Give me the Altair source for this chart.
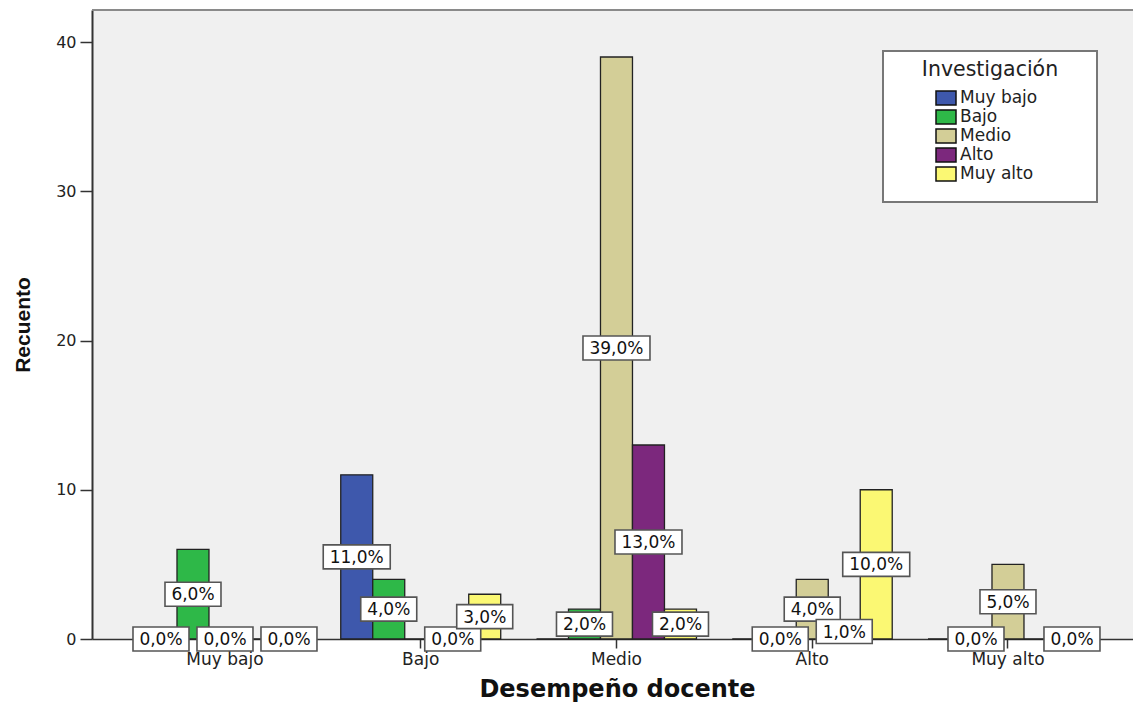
import altair as alt
import pandas as pd

# Categorías del eje X (Desempeño docente) y de la serie (Investigación)
desempeno = ["Muy bajo", "Bajo", "Medio", "Alto", "Muy alto"]
investigacion = ["Muy bajo", "Bajo", "Medio", "Alto", "Muy alto"]
colores = ["#3e58ac", "#2eb848", "#d3ce97", "#7c287d", "#fbf873"]

# Recuento de cada nivel de investigación, en el orden de `desempeno`
cuenta_muy_bajo = [0, 11, 0, 0, 0]
cuenta_bajo = [6, 4, 2, 0, 0]
cuenta_medio = [0, 0, 39, 4, 5]
cuenta_alto = [0, 0, 13, 1, 0]
cuenta_muy_alto = [0, 3, 2, 10, 0]

series = [cuenta_muy_bajo, cuenta_bajo, cuenta_medio, cuenta_alto, cuenta_muy_alto]
total = sum(sum(s) for s in series)

filas = []
for j, (nivel, cuentas) in enumerate(zip(investigacion, series)):
    for i, (cat, n) in enumerate(zip(desempeno, cuentas)):
        pct = 100.0 * n / total
        filas.append({
            "desempeno": cat,
            "investigacion": nivel,
            "grupo": i,
            "serie": j,
            "recuento": n,
            "mitad": n / 2.0,
            "etiqueta": f"{pct:.1f}".replace(".", ",") + "%",
        })
df = pd.DataFrame(filas)

# Las etiquetas se colocan de derecha a izquierda; una etiqueta que choca con
# la de la barra vecina ya colocada se omite.
ALTO_ETIQUETA = 1.4  # alto de la caja de la etiqueta, en unidades de recuento
colocadas = []
visible = {}
for k in sorted(df.index, key=lambda k: (df.at[k, "grupo"], df.at[k, "serie"]), reverse=True):
    g, s, m = df.at[k, "grupo"], df.at[k, "serie"], df.at[k, "mitad"]
    choca = any(pg == g and abs(ps - s) == 1 and abs(pm - m) < ALTO_ETIQUETA
                for pg, ps, pm in colocadas)
    visible[k] = not choca
    if not choca:
        colocadas.append((g, s, m))
df["visible"] = pd.Series(visible)
etiquetas = df[df["visible"]].copy()

FUENTE = "DejaVu Sans"

x_enc = alt.X(
    "desempeno:N",
    sort=desempeno,
    scale=alt.Scale(paddingInner=0, paddingOuter=0.159, align=0.564),
    axis=alt.Axis(
        title="Desempeño docente",
        labelAngle=0,
        labelFont=FUENTE,
        labelFontSize=17,
        labelColor="#222222",
        labelPadding=3,
        tickSize=9,
        tickColor="#333333",
        tickWidth=1.5,
        domainColor="#333333",
        domainWidth=1.5,
        titleFont=FUENTE,
        titleFontSize=24,
        titleFontWeight="bold",
        titleColor="#111111",
        titleX=525,
        titleY=57,
        titleAlign="center",
        titleBaseline="alphabetic",
    ),
)
xoff_enc = alt.XOffset(
    "investigacion:N",
    sort=investigacion,
    scale=alt.Scale(paddingInner=0, paddingOuter=0.559),
)
eje_y = alt.Axis(
    values=[0, 10, 20, 30, 40],
    title="Recuento",
    grid=False,
    labelFont=FUENTE,
    labelFontSize=16,
    labelColor="#222222",
    labelPadding=4,
    tickSize=12,
    tickColor="#333333",
    tickWidth=1.5,
    domainColor="#333333",
    domainWidth=2,
    titleFont="Liberation Sans",
    titleFontSize=21,
    titleFontWeight="bold",
    titleColor="#111111",
    titleAngle=270,
    titleX=-69,
    titleY=314.5,
    titleAlign="center",
    titleBaseline="middle",
)
escala_y = alt.Scale(domain=[0, 42.15], nice=False)

barras = alt.Chart(df).mark_bar(stroke="#222222", strokeWidth=1.3).encode(
    x=x_enc,
    xOffset=xoff_enc,
    y=alt.Y("recuento:Q", scale=escala_y, axis=eje_y),
    color=alt.Color(
        "investigacion:N",
        sort=investigacion,
        scale=alt.Scale(domain=investigacion, range=colores),
        legend=alt.Legend(
            orient="none",
            legendX=843,
            legendY=78.75,
            title=None,
            padding=0,
            symbolType="M-1,-0.7H1V0.7H-1Z",
            symbolSize=400,
            symbolStrokeColor="#111111",
            symbolStrokeWidth=1.5,
            symbolOpacity=1,
            labelFont=FUENTE,
            labelFontSize=17,
            labelColor="#222222",
            labelOffset=3,
            rowPadding=0,
            clipHeight=18.5,
        ),
    ),
)

# Cajas blancas de las etiquetas (dos anchos: "0,0%" y "11,0%")
caja_corta = "M-1,-0.4286H1V0.4286H-1Z"
caja_larga = "M-1,-0.3582H1V0.3582H-1Z"

base_et = alt.Chart(etiquetas).encode(
    x=x_enc,
    xOffset=xoff_enc,
    y=alt.Y("mitad:Q", scale=escala_y, axis=eje_y),
)
cajas_cortas = base_et.mark_point(
    shape=caja_corta, size=56 * 56, filled=True, fill="white", opacity=1,
    stroke="#555555", strokeWidth=1.6,
).transform_filter("length(datum.etiqueta) <= 4")
cajas_largas = base_et.mark_point(
    shape=caja_larga, size=67 * 67, filled=True, fill="white", opacity=1,
    stroke="#555555", strokeWidth=1.6,
).transform_filter("length(datum.etiqueta) > 4")
textos = base_et.mark_text(
    font=FUENTE, fontSize=17, color="#111111", align="center", baseline="middle", dy=1,
).encode(text="etiqueta:N")

# Borde superior del área de trazado
borde = alt.Chart(pd.DataFrame({"b": [0]})).mark_rule(
    color="#8a8a8a", strokeWidth=2
).encode(x=alt.value(0), x2=alt.value(1041), y=alt.value(0))

# Marco de la leyenda y su título
marco = alt.Chart(pd.DataFrame({"b": [0]})).mark_rect(
    fill="white", stroke="#777777", strokeWidth=2
).encode(x=alt.value(791), x2=alt.value(1005), y=alt.value(41), y2=alt.value(192))
titulo_leyenda = alt.Chart(pd.DataFrame({"t": ["Investigación"]})).mark_text(
    font=FUENTE, fontSize=20.5, color="#222222", align="center", baseline="alphabetic"
).encode(x=alt.value(898), y=alt.value(66), text="t:N")

chart = alt.layer(
    barras, cajas_cortas, cajas_largas, textos, borde, marco, titulo_leyenda
).properties(
    width=1041,
    height=629,
    autosize=alt.AutoSizeParams(type="none"),
    padding={"left": 92, "top": 10, "right": 0, "bottom": 65},
    background="white",
).configure_view(
    fill="#f0f0f0",
    stroke=None,
)

chart.save("out.html", embed_options={"renderer": "svg", "actions": False})
